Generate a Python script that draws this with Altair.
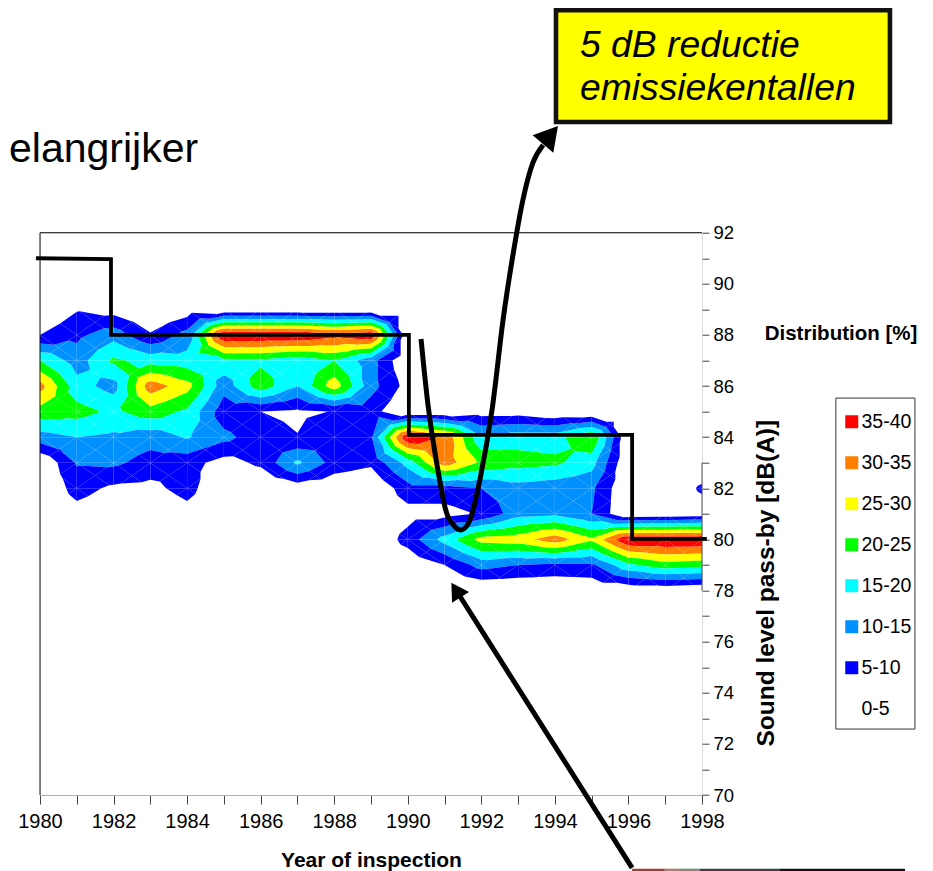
import altair as alt
import pandas as pd

alt.data_transformers.disable_max_rows()

YEARS = list(range(1980, 1999))
# Distribution [%] per inspection year (1980..1998), one list per sound level [dB(A)]
DB_89 = [0, 4.6, 2.7, 0, 2, 0, 0, 0, 0, 0, 0, 0, 0, 0, 0, 0, 0, 0, 0]
DB_88 = [5, 8.8, 13, 5.5, 12, 40, 40, 40, 37, 39.5, 0, 0, 0, 0, 0, 0, 0, 0, 0]
DB_87 = [20, 12.5, 21, 18, 17, 19, 19, 17, 20, 12, 0, 0, 0, 0, 0, 0, 0, 0, 0]
DB_86 = [32, 17, 13, 33, 27, 12, 23, 15, 28, 12, 3, 0, 0, 0, 0, 0, 0, 0, 0]
DB_85 = [23, 22, 19, 23, 19, 7, 5, 4, 5.2, 7, 0, 0, 2.5, 2.6, 0.4, 0, 0, 0, 0]
DB_84 = [13, 15, 14, 12, 15.5, 11.5, 7, 5.2, 9.5, 9.5, 40, 34, 16, 18, 18, 25, 0, 0, 0]
DB_83 = [0, 10.5, 11, 8, 7, 3, 6, 16, 8, 6, 17, 33, 24, 22, 21, 17, 0, 0, 0]
DB_82 = [0, 7, 4, 3.5, 7, 0, 0, 2, 1, 0, 8, 8, 10, 13, 12, 11, 0, 0, 6]
DB_81 = [0, 3, 1, 0, 3, 0, 0, 0, 0, 0, 3, 3, 5.5, 13, 14, 10, 0, 0.5, 1.5]
DB_80 = [0, 0, 0, 0, 0, 0, 0, 0, 0, 0, 7, 17, 27, 28, 33, 26, 40, 40, 40]
DB_79 = [0, 0, 0, 0, 0, 0, 0, 0, 0, 0, 1, 5, 12, 10, 9, 9, 19, 23, 22]
DB_78 = [0, 0, 0, 0, 0, 0, 0, 0, 0, 0, 0, 0, 0, 0, 0, 1, 1, 1, 0]
LEVELS = [89, 88, 87, 86, 85, 84, 83, 82, 81, 80, 79, 78]
GRID = [DB_89, DB_88, DB_87, DB_86, DB_85, DB_84, DB_83, DB_82, DB_81, DB_80, DB_79, DB_78]

BAND_LABELS = ["35-40", "30-35", "25-30", "20-25", "15-20", "10-15", "5-10", "0-5"]
BAND_LOW = [35, 30, 25, 20, 15, 10, 5, 0]
BAND_HIGH = [40, 35, 30, 25, 20, 15, 10, 5]
BAND_COLORS = ["#ff0000", "#ff8000", "#ffff00", "#00ff00", "#00ffff", "#0090ff", "#0000ff", "#ffffff"]

STEP_YEAR = [1979.89, 1981.93, 1981.93, 1990.03, 1990.03, 1996.10, 1996.10, 1998.13]
STEP_DB = [91.0, 90.97, 88.0, 88.0, 84.09, 84.09, 80.02, 80.02]

CURVE_YEAR = [1990.36, 1990.55, 1990.74, 1991.01, 1991.20, 1991.45, 1991.69, 1991.96, 1992.29, 1992.59, 1992.86, 1993.13, 1993.40, 1993.68]
CURVE_DB = [87.84, 85.26, 83.38, 81.27, 80.64, 80.37, 80.76, 82.32, 85.06, 88.58, 91.13, 93.28, 94.73, 95.43]

ARROW2_YEAR = [1996.10, 1991.31]
ARROW2_DB = [67.15, 78.02]

HEAD_YEAR = [1993.88, 1991.31]
HEAD_DB = [95.82, 78.02]
HEAD_ANGLE = [40, 328]
HEAD_SIZE = [729, 400]

BOX_YEAR = [1994.03, 2003.11]
BOX_DB = [100.71, 96.33]

LEGEND_BOX_YEAR = [2001.64, 2003.79]
LEGEND_BOX_DB = [85.53, 72.58]

STRIP_START = [1996.10, 1996.99, 1997.40, 1997.94, 2000.12]
STRIP_END = [1996.99, 1997.40, 1997.94, 2000.12, 2003.52]
STRIP_COLORS = ["#9c4034", "#a58474", "#7f8a7c", "#3a3f48", "#101214"]
STRIP_DB = 67.07


def clip(poly, value, keep_above):
    out = []
    n = len(poly)
    for i in range(n):
        a, b = poly[i], poly[(i + 1) % n]
        ina = a[2] >= value if keep_above else a[2] <= value
        inb = b[2] >= value if keep_above else b[2] <= value
        if ina:
            out.append(a)
        if ina != inb:
            t = (value - a[2]) / (b[2] - a[2])
            out.append((a[0] + t * (b[0] - a[0]), a[1] + t * (b[1] - a[1]), value))
    return out


rows = []
pid = 0
for r in range(len(LEVELS) - 1):
    for c in range(len(YEARS) - 1):
        tl = (YEARS[c], LEVELS[r], GRID[r][c])
        tr = (YEARS[c + 1], LEVELS[r], GRID[r][c + 1])
        bl = (YEARS[c], LEVELS[r + 1], GRID[r + 1][c])
        br = (YEARS[c + 1], LEVELS[r + 1], GRID[r + 1][c + 1])
        mid = (YEARS[c] + 0.5, LEVELS[r] - 0.5, (tl[2] + tr[2] + bl[2] + br[2]) / 4)
        for tri in ([tl, tr, mid], [tr, br, mid], [br, bl, mid], [bl, tl, mid]):
            for label_, lo, hi in zip(BAND_LABELS[:-1], BAND_LOW[:-1], BAND_HIGH[:-1]):
                part = clip(clip(tri, lo, True), hi, False) if max(p[2] for p in tri) >= lo else []
                if len(part) >= 3:
                    for i, p in enumerate(part):
                        rows.append({"x": round(p[0], 3), "y": round(p[1], 3), "band": label_, "pid": pid, "i": i})
                    pid += 1
contours = pd.DataFrame(rows)

FONT = "Liberation Sans"
xs = alt.Scale(domain=[1980, 1998], nice=False, zero=False)
ys = alt.Scale(domain=[70, 92], nice=False, zero=False)
X = alt.X(
    "x:Q", scale=xs, title="Year of inspection",
    axis=alt.Axis(
        values=YEARS, format="d", grid=False, labelExpr="datum.value % 2 == 0 ? datum.label : ''",
        labelOverlap=False, labelFlush=False, tickSize=9, tickColor="#444444", domainColor="#b0b0b0", labelPadding=7,
        labelFont=FONT, labelFontSize=20, labelColor="#000000", titleFont=FONT, titleFontSize=21,
        titleFontWeight="bold", titleColor="#000000", titleX=331, titleY=54,
    ),
)
Y = alt.Y(
    "y:Q", scale=ys, title="Sound level pass-by [dB(A)]",
    axis=alt.Axis(
        orient="right", values=list(range(70, 93)), format="d", grid=False, domain=False,
        labelExpr="datum.value % 2 == 0 ? datum.label : ''", labelOverlap=False, labelFlush=False, tickSize=7,
        tickColor="#444444", labelPadding=4, labelFont=FONT, labelFontSize=18.5, labelColor="#000000",
        titleFont=FONT, titleFontSize=24.5, titleFontWeight="bold", titleColor="#000000",
        titleAngle=270, titleX=76, titleY=350,
    ),
)

legend = alt.Legend(
    orient="none", legendX=802, legendY=179.3, title=None, symbolType="square", symbolSize=169,
    symbolStrokeWidth=0, symbolOpacity=1, labelFont=FONT, labelFontSize=19.5, labelColor="#000000",
    rowPadding=20, padding=0, labelOffset=0,
)
contour_layer = alt.Chart(contours).mark_line(strokeWidth=0, interpolate="linear-closed").encode(
    x=X, y=Y, detail="pid:N", order="i:Q",
    fill=alt.Fill("band:N", scale=alt.Scale(domain=BAND_LABELS, range=BAND_COLORS), sort=None, legend=legend),
)

frame_top = alt.Chart(pd.DataFrame({"x": [1980], "x2": [1998], "y": [92]})).mark_rule(color="#111111", strokeWidth=1).encode(x=X, x2="x2:Q", y=Y)
frame_left = alt.Chart(pd.DataFrame({"x": [1980], "y": [70], "y2": [92]})).mark_rule(color="#111111", strokeWidth=1).encode(x=X, y=Y, y2="y2:Q")
frame_right = alt.Chart(pd.DataFrame({"x": [1998], "y": [78], "y2": [83]})).mark_rule(color="#555555", strokeWidth=1).encode(x=X, y=Y, y2="y2:Q")

legend_box = alt.Chart(pd.DataFrame({"x": [LEGEND_BOX_YEAR[0]], "x2": [LEGEND_BOX_YEAR[1]], "y": [LEGEND_BOX_DB[0]], "y2": [LEGEND_BOX_DB[1]]})).mark_rect(
    fill="#ffffff", stroke="#333333", strokeWidth=1).encode(x=X, x2="x2:Q", y=Y, y2="y2:Q")

step = alt.Chart(pd.DataFrame({"x": STEP_YEAR, "y": STEP_DB, "i": range(len(STEP_DB))})).mark_line(
    color="#000000", strokeWidth=3.8, strokeJoin="miter").encode(x=X, y=Y, order="i:Q")
curve = alt.Chart(pd.DataFrame({"x": CURVE_YEAR, "y": CURVE_DB, "i": range(len(CURVE_DB))})).mark_line(
    color="#000000", strokeWidth=5, interpolate="cardinal").encode(x=X, y=Y, order="i:Q")
arrow2 = alt.Chart(pd.DataFrame({"x": ARROW2_YEAR, "y": ARROW2_DB, "i": [0, 1]})).mark_line(
    color="#000000", strokeWidth=5).encode(x=X, y=Y, order="i:Q")
heads = alt.Chart(pd.DataFrame({"x": HEAD_YEAR, "y": HEAD_DB, "a": HEAD_ANGLE, "s": HEAD_SIZE})).mark_point(
    shape="triangle-up", filled=True, color="#000000", opacity=1).encode(
    x=X, y=Y, angle=alt.Angle("a:Q", scale=None), size=alt.Size("s:Q", scale=None, legend=None))

box = alt.Chart(pd.DataFrame({"x": [BOX_YEAR[0]], "x2": [BOX_YEAR[1]], "y": [BOX_DB[0]], "y2": [BOX_DB[1]]})).mark_rect(
    fill="#ffff00", stroke="#111111", strokeWidth=4.6).encode(x=X, x2="x2:Q", y=Y, y2="y2:Q")


def label(text, year, db, size, align="left", style="normal", weight="normal", baseline="alphabetic"):
    return alt.Chart(pd.DataFrame({"x": [year], "y": [db], "t": [text]})).mark_text(
        font=FONT, fontSize=size, align=align, baseline=baseline, fontStyle=style, fontWeight=weight, color="#000000",
    ).encode(x=X, y=Y, text="t:N")


box_1 = label("5 dB reductie", 1994.68, 98.87, 37.3, style="italic")
box_2 = label("emissiekentallen", 1994.68, 97.19, 37.3, style="italic")
slide_text = label("elangrijker", 1984.30, 94.78, 41, align="right")
dist_title = label("Distribution [%]", 2001.78, 88.04, 20.5, align="center", weight="bold", baseline="middle")

strip = alt.Chart(pd.DataFrame({"x": STRIP_START, "x2": STRIP_END, "y": [STRIP_DB] * 5, "c": STRIP_COLORS})).mark_rule(strokeWidth=2.5).encode(
    x=X, x2="x2:Q", y=Y, color=alt.Color("c:N", scale=None))

chart = alt.layer(
    legend_box, contour_layer, frame_top, frame_left, frame_right, step, curve, arrow2, heads,
    box, box_1, box_2, slide_text, dist_title, strip,
).properties(
    width=662, height=562.3,
    autosize=alt.AutoSizeParams(type="none"),
    padding={"left": 32, "top": 224.7, "right": 223, "bottom": 76},
).configure_view(stroke=None).configure(background="#ffffff")

chart.save("out.html", embed_options={"renderer": "svg", "actions": False})
